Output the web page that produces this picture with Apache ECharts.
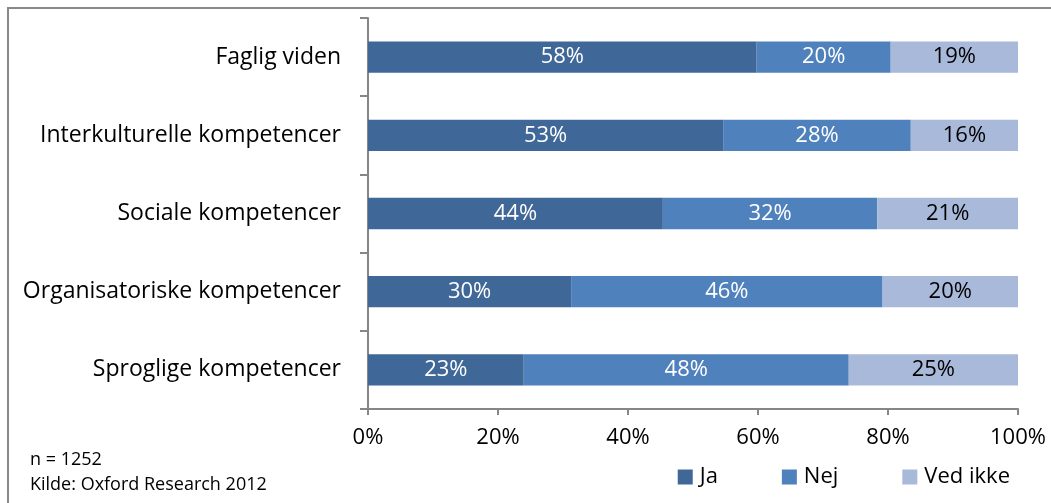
<!DOCTYPE html>
<html><head><meta charset="utf-8">
<script src="https://cdn.jsdelivr.net/npm/echarts@6/dist/echarts.min.js"></script>
<style>html,body{margin:0;padding:0;background:#fff}#c{width:1051px;height:503px}</style>
</head><body><div id="c"></div>
<script>
const categories = ['Sproglige kompetencer','Organisatoriske kompetencer','Sociale kompetencer','Interkulturelle kompetencer','Faglig viden'];
const seriesNames = ['Ja','Nej','Ved ikke'];
const ja = [23, 30, 44, 53, 58];
const nej = [48, 46, 32, 28, 20];
const vedIkke = [25, 20, 21, 16, 19];
const xTicks = [0, 20, 40, 60, 80, 100];
const colors = ['#3F6797','#4F81BD','#A9B9D9'];
const labelColors = ['#fff','#fff','#000'];
const FONT = 'Open Sans';

const raw = [ja, nej, vedIkke];
const totals = categories.map((_, i) => ja[i] + nej[i] + vedIkke[i]);
const series = raw.map((arr, s) => ({
  name: seriesNames[s], type: 'bar', stack: 'all', barWidth: '40%',
  itemStyle: {color: colors[s]},
  label: {show: true, position: 'inside', color: labelColors[s], fontFamily: FONT, fontSize: 22,
    formatter: p => raw[s][p.dataIndex] + '%'},
  data: arr.map((v, i) => v / totals[i] * 100)
}));

const chart = echarts.init(document.getElementById('c'));
chart.setOption({
  animation: false,
  grid: {left: 368, right: 33, top: 18, bottom: 94},
  xAxis: {type: 'value', min: xTicks[0], max: xTicks[xTicks.length - 1], interval: 20,
    axisLine: {show: true, lineStyle: {color: '#868686', width: 2}},
    axisTick: {show: true, length: 6, lineStyle: {color: '#868686', width: 2}},
    splitLine: {show: false},
    axisLabel: {fontFamily: FONT, fontSize: 22, color: '#000', margin: 18, formatter: v => v + '%'}},
  yAxis: {type: 'category', data: categories,
    axisLine: {lineStyle: {color: '#868686', width: 2}},
    axisTick: {show: true, length: 8, lineStyle: {color: '#868686', width: 2}},
    axisLabel: {fontFamily: FONT, fontSize: 23, color: '#000', margin: 27}},
  legend: {data: seriesNames, right: 36, bottom: 10, itemWidth: 15, itemHeight: 15, itemGap: 64, icon: 'rect',
    textStyle: {fontFamily: FONT, fontSize: 22, color: '#000', padding: [0, 0, 0, 2]}},
  graphic: [
    {type: 'rect', shape: {x: 8, y: 8, width: 1100, height: 600}, style: {fill: 'none', stroke: '#888', lineWidth: 2}, silent: true},
    {type: 'text', left: 30, top: 451, style: {text: 'n = 1252', fontFamily: FONT, fontSize: 18, fill: '#000'}},
    {type: 'text', left: 30, top: 476, style: {text: 'Kilde: Oxford Research 2012', fontFamily: FONT, fontSize: 18, fill: '#000'}}
  ],
  series: series
});
</script></body></html>
